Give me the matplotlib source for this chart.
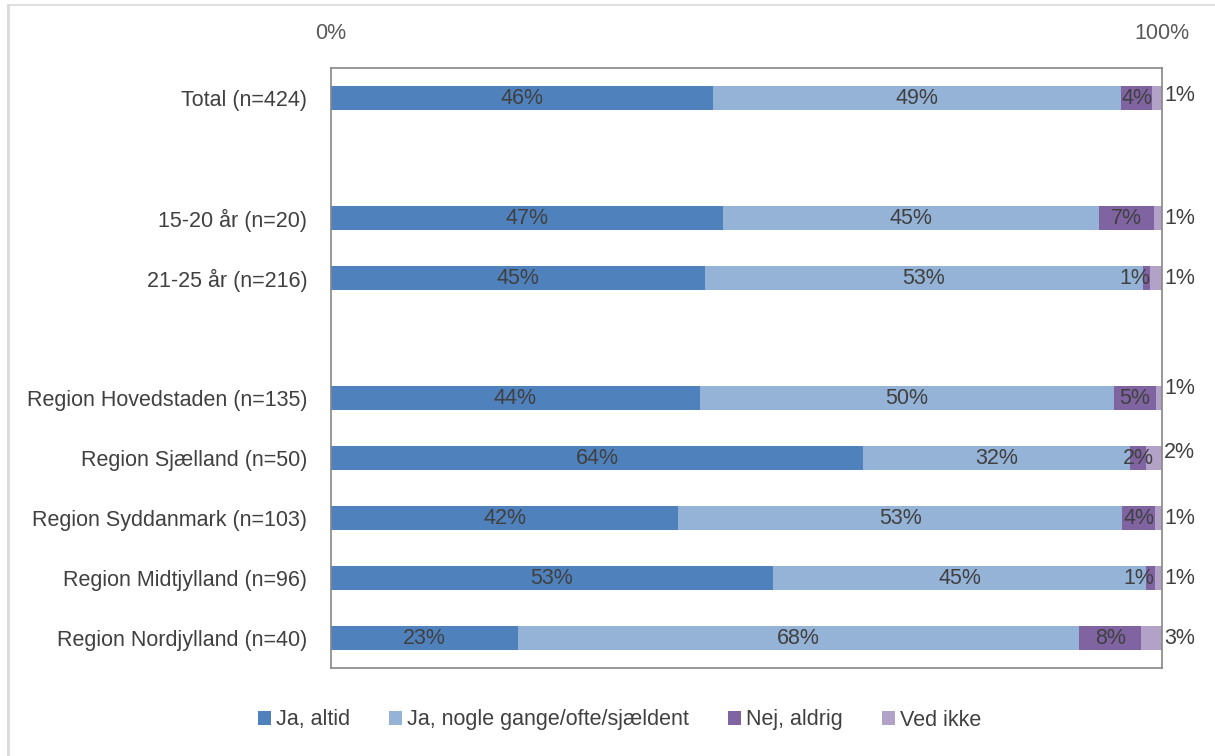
import matplotlib.pyplot as plt
from matplotlib.lines import Line2D
from matplotlib.patches import Patch

plt.rcParams['font.family'] = ['Liberation Sans', 'DejaVu Sans']

# rows from top to bottom, empty strings are spacer rows
groups = ['Total (n=424)', '',
          '15-20 år (n=20)', '21-25 år (n=216)', '',
          'Region Hovedstaden (n=135)', 'Region Sjælland (n=50)',
          'Region Syddanmark (n=103)', 'Region Midtjylland (n=96)',
          'Region Nordjylland (n=40)']

series = ['Ja, altid', 'Ja, nogle gange/ofte/sjældent', 'Nej, aldrig', 'Ved ikke']
altid = [46.0, None, 47.2, 45.0, None, 44.4, 64.0, 41.8, 53.2, 22.5]
nogle = [49.1, None, 45.2, 52.7, None, 49.8, 32.2, 53.4, 44.9, 67.5]
aldrig = [3.7, None, 6.6, 0.9, None, 5.1, 1.9, 4.0, 1.0, 7.5]
ved_ikke = [1.2, None, 1.0, 1.4, None, 0.7, 1.9, 0.8, 0.9, 2.5]

colors = ['#4F81BD', '#95B3D7', '#8064A2', '#B3A2C7']
txt = '#404040'
fs = 15.5

fig = plt.figure(figsize=(12.15, 7.56), dpi=100)
ax = fig.add_axes([331 / 1215, 1 - 668 / 756, (1162 - 331) / 1215, 600 / 756])

rows = [i for i, g in enumerate(groups) if g]
data = [altid, nogle, aldrig, ved_ikke]
# small vertical nudges (points) for outside labels pushed apart from each other
nudge = {0: 2, 5: 7, 6: 4}


def pct(v):
    # round half up, like the spreadsheet does
    return f'{int(v + 0.5)}%'


for r in rows:
    left = 0.0
    for k, vals in enumerate(data):
        w = vals[r]
        ax.barh(r, w, left=left, height=0.4, color=colors[k], edgecolor='none')
        label = pct(w)
        if k == 3:
            ax.annotate(label, (100, r), xytext=(1.5, nudge.get(r, 0)),
                        textcoords='offset points', ha='left', va='center',
                        fontsize=fs, color=txt, annotation_clip=False)
        elif w < 1.5:
            ax.text(left + w, r, label, ha='right', va='center',
                    fontsize=fs, color=txt)
        else:
            ax.text(left + w / 2, r, label, ha='center', va='center',
                    fontsize=fs, color=txt)
        left += w

ax.set_xlim(0, 100)
ax.set_ylim(9.5, -0.5)
ax.set_yticks(rows)
ax.set_yticklabels([groups[r] for r in rows], fontsize=fs, color=txt)
ax.xaxis.tick_top()
ax.set_xticks([0, 100])
ax.set_xticklabels(['0%', '100%'], fontsize=fs, color='#595959')
ax.tick_params(length=0)
ax.tick_params(axis='x', pad=17)
ax.tick_params(axis='y', pad=17)
for s in ax.spines.values():
    s.set_color('#868686')
    s.set_linewidth(1.2)

handles = [Patch(facecolor=c, edgecolor='none') for c in colors]
fig.legend(handles, series, loc='center', bbox_to_anchor=(0.51, 1 - 720 / 756),
           ncol=4, frameon=False, fontsize=fs, handlelength=0.6, handleheight=0.6,
           handletextpad=0.25, columnspacing=1.8, labelcolor=txt)

# light frame around the chart area
fig.add_artist(Line2D([8 / 1215, 8 / 1215], [0, 1 - 5 / 756], color='#D9D9D9',
                      lw=2, transform=fig.transFigure))
fig.add_artist(Line2D([8 / 1215, 1], [1 - 5 / 756, 1 - 5 / 756], color='#D9D9D9',
                      lw=1.2, transform=fig.transFigure))

fig.savefig('out.png', dpi=100, facecolor='white')
